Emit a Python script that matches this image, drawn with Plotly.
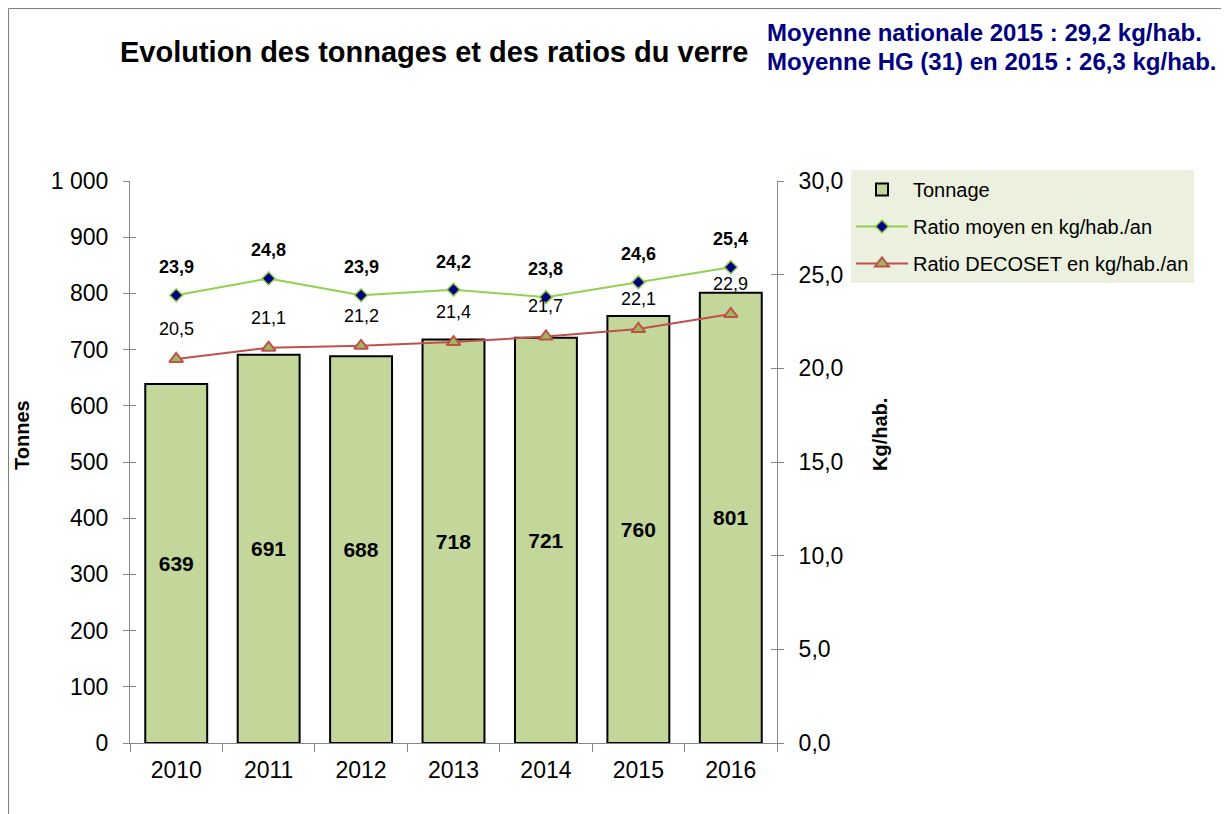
import plotly.graph_objects as go

years = ["2010", "2011", "2012", "2013", "2014", "2015", "2016"]
tonnage = [639, 691, 688, 718, 721, 760, 801]
ratio_moyen = [23.9, 24.8, 23.9, 24.2, 23.8, 24.6, 25.4]
ratio_decoset = [20.5, 21.1, 21.2, 21.4, 21.7, 22.1, 22.9]

FONT = "Liberation Sans, Arial, sans-serif"
OFF = 8  # page body margin
W, H = 1229 - OFF, 814 - OFF
# plot area in page pixels (reference), converted to figure pixels
L, R, T, B = 130 - OFF, 777 - OFF, 181 - OFF, 743 - OFF


def px(x):  # page pixel -> paper x
    return (x - OFF - L) / (R - L)


def py(y):  # page pixel -> paper y
    return (B - (y - OFF)) / (B - T)


fig = go.Figure()

fig.add_trace(go.Bar(
    x=years, y=tonnage, name="Tonnage",
    marker=dict(color="#C4D79B", line=dict(color="#000000", width=2)),
    width=0.67,
    text=[str(v) for v in tonnage], textposition="inside",
    insidetextanchor="middle",
    textfont=dict(family=FONT, size=21, color="#000000", weight="bold"),
    legendgroup="a", yaxis="y",
))

fig.add_trace(go.Scatter(
    x=years, y=ratio_moyen, name="Ratio moyen en kg/hab./an",
    mode="lines+markers",
    line=dict(color="#92D050", width=2),
    marker=dict(symbol="diamond", size=10, color="#000080",
                line=dict(color="#92D050", width=1.5)),
    legendgroup="b", yaxis="y2",
))

fig.add_trace(go.Scatter(
    x=years, y=ratio_decoset, name="Ratio DECOSET en kg/hab./an",
    mode="lines+markers",
    line=dict(color="#C0504D", width=2),
    marker=dict(symbol="triangle-up", size=12, color="#9BBB59",
                line=dict(color="#C0504D", width=2)),
    legendgroup="c", yaxis="y2",
))

annotations = []
for i, v in enumerate(ratio_moyen):
    annotations.append(dict(
        x=i, y=v, xref="x", yref="y2", text=f"{v:.1f}".replace(".", ","),
        showarrow=False, yshift=28, yanchor="middle",
        font=dict(family=FONT, size=18, color="#000000", weight="bold")))
for i, v in enumerate(ratio_decoset):
    annotations.append(dict(
        x=i, y=v, xref="x", yref="y2", text=f"{v:.1f}".replace(".", ","),
        showarrow=False, yshift=30, yanchor="middle",
        font=dict(family=FONT, size=18, color="#000000")))

annotations += [
    dict(x=px(433.5), y=py(52), xref="paper", yref="paper",
         text="Evolution des tonnages et des ratios du verre", showarrow=False,
         xanchor="center", yanchor="middle",
         font=dict(family=FONT, size=29, color="#000000", weight="bold")),
    dict(x=px(765), y=py(33), xref="paper", yref="paper",
         text="Moyenne nationale 2015 : 29,2 kg/hab.", showarrow=False,
         xanchor="left", yanchor="middle",
         font=dict(family=FONT, size=24, color="#000080", weight="bold")),
    dict(x=px(765), y=py(61), xref="paper", yref="paper",
         text="Moyenne HG (31) en 2015 : 26,3 kg/hab.", showarrow=False,
         xanchor="left", yanchor="middle",
         font=dict(family=FONT, size=24, color="#000080", weight="bold")),
    dict(x=px(22), y=py(435), xref="paper", yref="paper", text="Tonnes",
         showarrow=False, textangle=-90, xanchor="center", yanchor="middle",
         font=dict(family=FONT, size=20, color="#000000", weight="bold")),
    dict(x=px(880), y=py(435), xref="paper", yref="paper", text="Kg/hab.",
         showarrow=False, textangle=-90, xanchor="center", yanchor="middle",
         font=dict(family=FONT, size=20, color="#000000", weight="bold")),
]

shapes = [
    dict(type="line", xref="paper", yref="paper", x0=px(8.5), x1=px(1229),
         y0=py(8.5), y1=py(8.5), line=dict(color="#808080", width=1)),
    dict(type="line", xref="paper", yref="paper", x0=px(8.5), x1=px(8.5),
         y0=py(8.5), y1=py(814), line=dict(color="#808080", width=1)),
]

axis_line = "#868686"
tickfont = dict(family=FONT, size=23, color="#000000")

fig.update_layout(
    width=W, height=H,
    margin=dict(l=L, r=W - R, t=T, b=H - B, pad=0),
    paper_bgcolor="#FFFFFF", plot_bgcolor="#FFFFFF",
    separators=", ",
    bargap=0.33,
    showlegend=True,
    legend=dict(
        x=px(851), y=py(170), xanchor="left", yanchor="top",
        bgcolor="#EBF1DE", borderwidth=0,
        font=dict(family=FONT, size=20, color="#000000"),
        traceorder="grouped", tracegroupgap=8, itemwidth=52,
    ),
    xaxis=dict(
        type="category", range=[-0.5, 6.5], autorange=False,
        showline=True, linecolor=axis_line, linewidth=1,
        ticks="outside", ticklen=8, tickcolor=axis_line, tickson="boundaries",
        tickfont=tickfont, tickangle=0, ticklabelstandoff=6,
        showgrid=False, zeroline=False, automargin=False,
    ),
    yaxis=dict(
        range=[0, 1000], autorange=False, dtick=100, tickformat=",d",
        showline=True, linecolor=axis_line, linewidth=1,
        ticks="outside", ticklen=6, tickcolor=axis_line, ticklabelstandoff=10,
        tickfont=tickfont, showgrid=False, zeroline=False, automargin=False,
    ),
    yaxis2=dict(
        range=[0, 30], autorange=False, dtick=5, tickformat=".1f",
        overlaying="y", side="right",
        showline=True, linecolor=axis_line, linewidth=1,
        ticks="outside", ticklen=6, tickcolor=axis_line, ticklabelstandoff=10,
        tickfont=tickfont, showgrid=False, zeroline=False, automargin=False,
    ),
    yaxis3=dict(
        range=[0, 1000], autorange=False, dtick=100, overlaying="y", side="left",
        showline=False, ticks="inside", ticklen=6, tickcolor=axis_line,
        showticklabels=False, showgrid=False, zeroline=False,
    ),
    yaxis4=dict(
        range=[0, 30], autorange=False, dtick=5, overlaying="y", side="right",
        showline=False, ticks="inside", ticklen=6, tickcolor=axis_line,
        showticklabels=False, showgrid=False, zeroline=False,
    ),
    annotations=annotations,
    shapes=shapes,
)

# invisible helper traces so the inside tick axes are drawn
fig.add_trace(go.Scatter(x=[years[0]], y=[0], yaxis="y3", mode="markers",
                         marker=dict(opacity=0), showlegend=False, hoverinfo="skip"))
fig.add_trace(go.Scatter(x=[years[0]], y=[0], yaxis="y4", mode="markers",
                         marker=dict(opacity=0), showlegend=False, hoverinfo="skip"))

fig.write_html("out.html")
